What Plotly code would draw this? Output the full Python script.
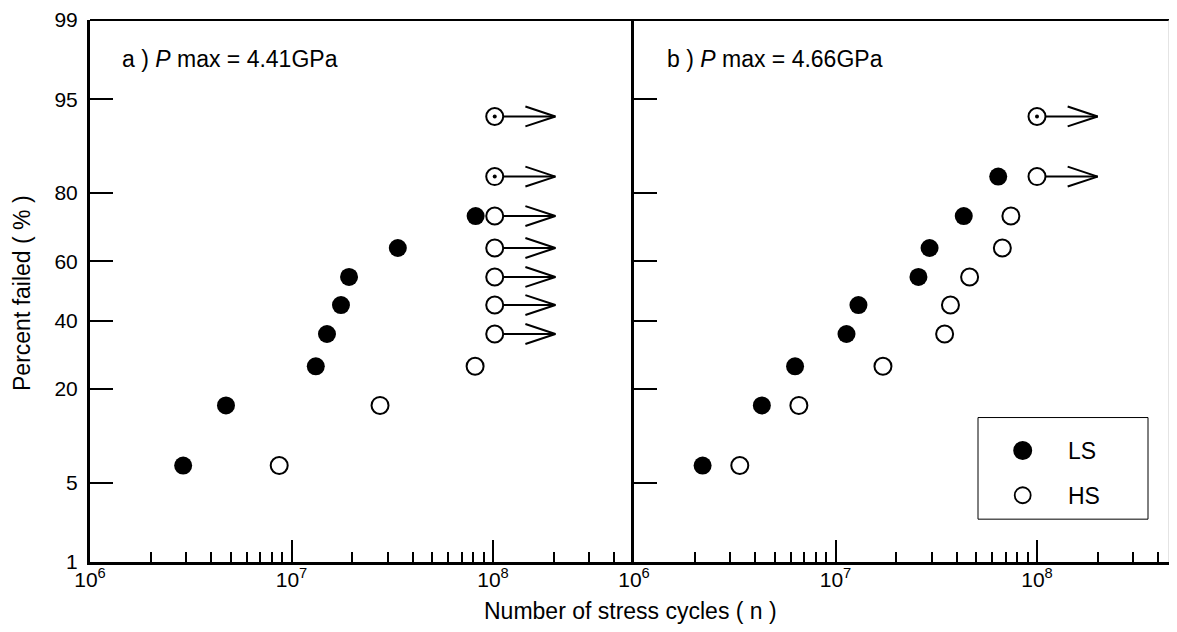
import plotly.graph_objects as go
from statistics import NormalDist

# ---------------- data ----------------
PCT_TICKS = [1, 5, 20, 40, 60, 80, 95, 99]
X_MAJOR = [1e6, 1e7, 1e8]
X_MAJOR_TEXT = ["10<sup>6</sup>", "10<sup>7</sup>", "10<sup>8</sup>"]
X_MINOR = [2e6, 3e6, 4e6, 5e6, 6e6, 7e6, 8e6, 9e6,
           2e7, 3e7, 4e7, 5e7, 6e7, 7e7, 8e7, 9e7,
           2e8, 3e8, 4e8]

# Panel a : Pmax = 4.41 GPa
A_LS_N = [2.90e6, 4.73e6, 1.32e7, 1.50e7, 1.76e7, 1.93e7, 3.37e7, 8.20e7]
A_LS_P = [6.7, 16.3, 25.9, 35.6, 45.2, 54.8, 64.4, 74.0]
A_HS_N = [8.69e6, 2.75e7, 8.15e7]
A_HS_P = [6.7, 16.3, 25.9]
A_RUN_N = [1.02e8, 1.02e8, 1.02e8, 1.02e8, 1.02e8, 1.02e8, 1.02e8]
A_RUN_P = [35.6, 45.2, 54.8, 64.4, 74.0, 83.7, 93.3]
A_DOT_N = [1.02e8, 1.02e8]
A_DOT_P = [83.7, 93.3]

# Panel b : Pmax = 4.66 GPa
B_LS_N = [2.19e6, 4.31e6, 6.30e6, 1.134e7, 1.30e7, 2.58e7, 2.93e7, 4.33e7, 6.42e7]
B_LS_P = [6.7, 16.3, 25.9, 35.6, 45.2, 54.8, 64.4, 74.0, 83.7]
B_HS_N = [3.35e6, 6.58e6, 1.72e7, 3.48e7, 3.72e7, 4.63e7, 6.73e7, 7.42e7]
B_HS_P = [6.7, 16.3, 25.9, 35.6, 45.2, 54.8, 64.4, 74.0]
B_RUN_N = [1.0e8, 1.0e8]
B_RUN_P = [83.7, 93.3]
B_DOT_N = [1.0e8]
B_DOT_P = [93.3]

# ---------------- layout constants ----------------
OFF = 8                      # default page (body) margin of the html page
FW, FH = 1161, 616           # figure size so that it fits the 1177x632 window
L, R, T, B = 82, 0, 10, 62
PW = FW - L - R
PH = FH - T - B
PANEL_A_PX = 544
DEC_PX = 201.5
FONT = "Liberation Sans, Arial, sans-serif"
FS_TICK = 21
FS_TEXT = 23

ND = NormalDist()


def z(p):
    return ND.inv_cdf(p / 100.0)


def zl(ps):
    return [z(p) for p in ps]


Y_RANGE = [z(PCT_TICKS[0]), z(PCT_TICKS[-1])]
Z_PER_PX = (Y_RANGE[1] - Y_RANGE[0]) / PH

ARROW_MULT = 2.0       # arrow tip relative to run-out point
ARM_PX = 30            # chevron arm length (px, horizontal)
ARM_HALF_PX = 10       # chevron half height (px)


def arrow_path(ns, ps):
    xs, ys = [], []
    for n, p in zip(ns, ps):
        zz = z(p)
        tip = n * ARROW_MULT
        arm = tip / 10 ** (ARM_PX / DEC_PX)
        dz = ARM_HALF_PX * Z_PER_PX
        xs += [n, tip, None, arm, tip, arm, None]
        ys += [zz, zz, None, zz + dz, zz, zz - dz, None]
    return xs, ys


fig = go.Figure()


def add_panel(xa, ya, ls_n, ls_p, hs_n, hs_p, run_n, run_p, dot_n, dot_p):
    ax, ay = arrow_path(run_n, run_p)
    fig.add_trace(go.Scatter(x=ax, y=ay, mode="lines", xaxis=xa, yaxis=ya,
                             line=dict(color="black", width=2),
                             showlegend=False, hoverinfo="skip"))
    fig.add_trace(go.Scatter(x=ls_n, y=zl(ls_p), mode="markers", xaxis=xa, yaxis=ya,
                             marker=dict(symbol="circle", size=18, color="black",
                                         line=dict(width=0)),
                             name="LS", showlegend=False))
    fig.add_trace(go.Scatter(x=hs_n + run_n, y=zl(hs_p + run_p), mode="markers",
                             xaxis=xa, yaxis=ya,
                             marker=dict(symbol="circle", size=17, color="white",
                                         line=dict(width=2, color="black")),
                             name="HS", showlegend=False))
    fig.add_trace(go.Scatter(x=dot_n, y=zl(dot_p), mode="markers", xaxis=xa, yaxis=ya,
                             marker=dict(symbol="circle", size=4, color="black"),
                             showlegend=False, hoverinfo="skip"))


add_panel("x", "y", A_LS_N, A_LS_P, A_HS_N, A_HS_P, A_RUN_N, A_RUN_P, A_DOT_N, A_DOT_P)
add_panel("x2", "y2", B_LS_N, B_LS_P, B_HS_N, B_HS_P, B_RUN_N, B_RUN_P, B_DOT_N, B_DOT_P)

split = PANEL_A_PX / PW
xa_range = [6, 6 + PANEL_A_PX / DEC_PX]
xb_range = [6, 6 + (PW - PANEL_A_PX) / DEC_PX]

xcommon = dict(type="log", showline=True, linewidth=3, linecolor="black",
               ticks="inside", ticklen=22, tickwidth=2, tickcolor="black",
               tickmode="array", tickvals=X_MAJOR, ticktext=X_MAJOR_TEXT,
               minor=dict(tickmode="array", tickvals=X_MINOR, ticks="inside",
                          ticklen=10, tickwidth=2, tickcolor="black", showgrid=False),
               showgrid=False, zeroline=False, ticklabelstandoff=-3,
               ticklabeloverflow="allow",
               tickfont=dict(family=FONT, size=FS_TICK, color="black"))
ycommon = dict(range=Y_RANGE, showline=True, linewidth=3, linecolor="black",
               ticks="inside", ticklen=23, tickwidth=2, tickcolor="black",
               tickmode="array", tickvals=zl(PCT_TICKS),
               ticktext=[str(p) for p in PCT_TICKS],
               showgrid=False, zeroline=False, ticklabelstandoff=5,
               ticklabeloverflow="allow",
               tickfont=dict(family=FONT, size=FS_TICK, color="black"))

fig.update_layout(
    width=FW, height=FH,
    margin=dict(l=L, r=R, t=T, b=B, pad=0),
    paper_bgcolor="white", plot_bgcolor="white",
    font=dict(family=FONT, size=FS_TEXT, color="black"),
    showlegend=False,
    xaxis=dict(xcommon, domain=[0, split], range=xa_range, anchor="y"),
    yaxis=dict(ycommon, domain=[0, 1], anchor="x"),
    xaxis2=dict(xcommon, domain=[split, 1], range=xb_range, anchor="y2"),
    yaxis2=dict(ycommon, domain=[0, 1], anchor="x2", showticklabels=False),
)


# helpers: page-pixel position -> paper fraction
def px_x(px):
    return (px - OFF - L) / PW


def px_y(py):
    return (FH - B - (py - OFF)) / PH


shapes = [
    # top frame line
    dict(type="line", xref="paper", yref="paper", x0=0, x1=1, y0=1, y1=1,
         line=dict(color="black", width=2)),
    # faint right border
    dict(type="line", xref="paper", yref="paper", x0=1, x1=1, y0=0, y1=1,
         line=dict(color="#c8c8c8", width=1)),
    # legend box
    dict(type="rect", xref="paper", yref="paper",
         x0=px_x(978), x1=px_x(1148), y0=px_y(519), y1=px_y(417),
         line=dict(color="black", width=1), fillcolor="white", layer="above"),
    # legend markers
    dict(type="circle", xref="paper", yref="paper", xsizemode="pixel", ysizemode="pixel",
         xanchor=px_x(1022.7), yanchor=px_y(450), x0=-9.5, x1=9.5, y0=-9.5, y1=9.5,
         fillcolor="black", line=dict(color="black", width=0), layer="above"),
    dict(type="circle", xref="paper", yref="paper", xsizemode="pixel", ysizemode="pixel",
         xanchor=px_x(1022.7), yanchor=px_y(495), x0=-8, x1=8, y0=-8, y1=8,
         fillcolor="white", line=dict(color="black", width=1.8), layer="above"),
]
fig.update_layout(shapes=shapes)

annots = [
    dict(text="a ) <i>P</i> max = 4.41GPa", x=px_x(120), y=px_y(57),
         xanchor="left", yanchor="middle"),
    dict(text="b ) <i>P</i> max = 4.66GPa", x=px_x(665), y=px_y(57),
         xanchor="left", yanchor="middle"),
    dict(text="LS", x=px_x(1066), y=px_y(451), xanchor="left", yanchor="middle"),
    dict(text="HS", x=px_x(1066), y=px_y(496), xanchor="left", yanchor="middle"),
    dict(text="Number of stress cycles ( n )", x=px_x(630), y=px_y(611),
         xanchor="center", yanchor="middle"),
    dict(text="Percent failed ( % )", x=px_x(22), y=px_y(292), textangle=-90,
         xanchor="center", yanchor="middle"),
]
for a in annots:
    a.update(xref="paper", yref="paper", showarrow=False,
             font=dict(family=FONT, size=FS_TEXT, color="black"))
fig.update_layout(annotations=annots)

fig.write_html("out.html")
